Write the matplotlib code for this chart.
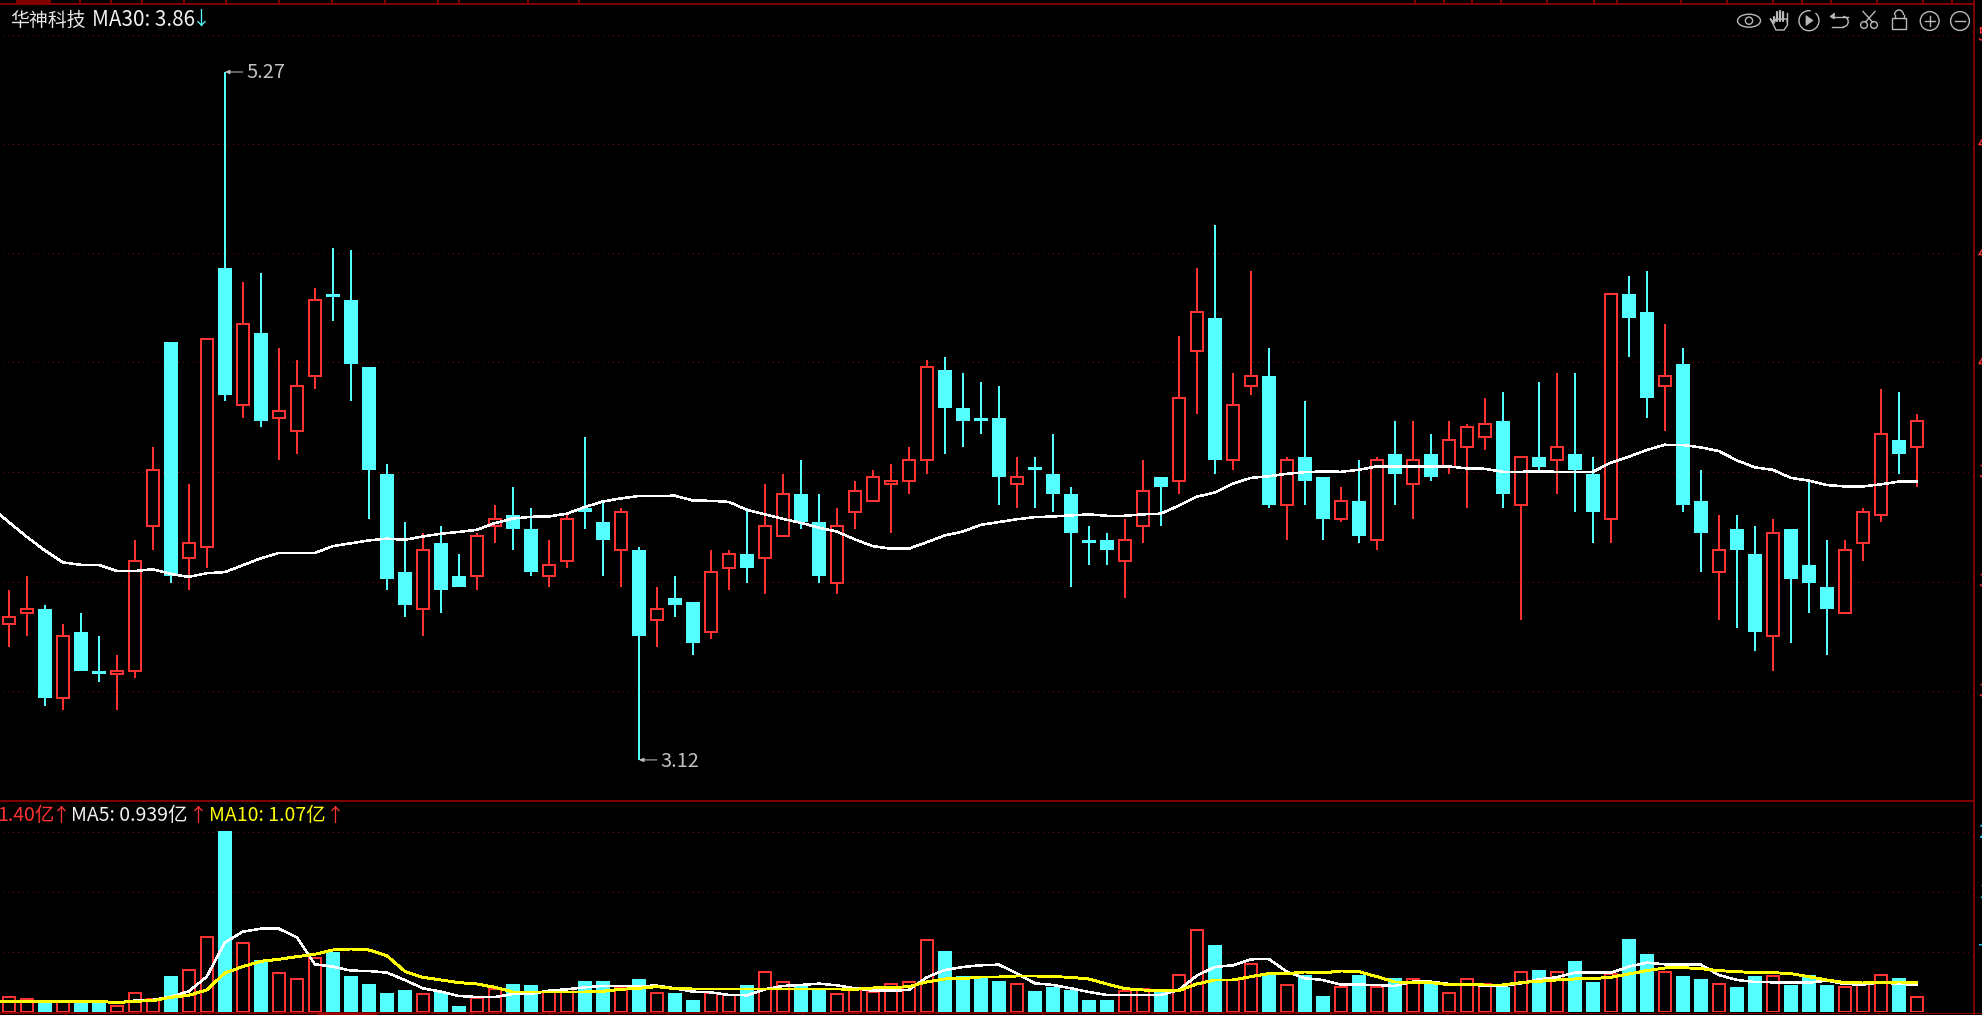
import numpy as np
import matplotlib
matplotlib.use("Agg")
import matplotlib.pyplot as plt
from matplotlib.patches import Circle, Rectangle, Ellipse, Polygon, Arc

plt.rcParams['font.family'] = ['Noto Sans CJK SC', 'DejaVu Sans']
plt.rcParams['lines.scale_dashes'] = False

# ---------- data ----------
opens = [3.46,3.49,3.50,3.27,3.44,3.34,3.33,3.34,3.73,4.29,3.64,3.67,4.54,4.09,4.32,4.05,4.01,4.18,4.45,4.43,
         4.21,3.88,3.60,3.50,3.68,3.59,3.59,3.73,3.76,3.72,3.59,3.63,3.78,3.74,3.66,3.66,3.47,3.53,3.52,3.44,
         3.61,3.65,3.64,3.70,3.82,3.74,3.57,3.77,3.80,3.85,3.86,3.92,4.20,4.08,4.05,4.05,3.85,3.90,3.88,3.82,
         3.69,3.69,3.63,3.73,3.87,3.86,4.26,4.37,3.92,4.15,4.18,3.79,3.93,3.87,3.75,3.80,3.69,3.94,3.85,3.94,
         3.90,3.96,3.99,4.04,3.79,3.93,3.92,3.94,3.88,3.75,4.45,4.39,4.15,4.22,3.80,3.60,3.72,3.65,3.43,3.72,
         3.62,3.56,3.49,3.68,3.76,3.98,3.96]
highs = [3.55,3.59,3.51,3.46,3.49,3.43,3.38,3.69,3.96,4.29,3.85,4.30,5.27,4.49,4.52,4.27,4.23,4.47,4.61,4.60,
         4.21,3.91,3.74,3.71,3.73,3.65,3.71,3.79,3.84,3.78,3.69,3.76,3.99,3.80,3.78,3.67,3.56,3.59,3.52,3.66,
         3.66,3.78,3.85,3.88,3.92,3.82,3.78,3.86,3.89,3.91,3.96,4.23,4.24,4.19,4.16,4.15,3.93,3.93,4.00,3.84,
         3.73,3.71,3.75,3.92,3.87,4.31,4.54,4.69,4.19,4.53,4.27,3.93,4.10,3.87,3.84,3.92,3.93,4.04,4.04,4.00,
         4.04,4.03,4.11,4.13,3.93,4.16,4.19,4.19,3.93,4.45,4.51,4.53,4.35,4.27,3.89,3.76,3.76,3.73,3.75,3.72,
         3.86,3.69,3.69,3.78,4.14,4.13,4.06]
lows = [3.40,3.43,3.25,3.24,3.34,3.31,3.24,3.32,3.66,3.57,3.55,3.61,4.10,4.05,4.02,3.92,3.94,4.14,4.36,4.10,
        3.75,3.55,3.48,3.43,3.49,3.56,3.55,3.68,3.66,3.59,3.56,3.61,3.72,3.59,3.56,3.12,3.40,3.48,3.38,3.42,
        3.55,3.57,3.54,3.70,3.72,3.57,3.54,3.72,3.80,3.71,3.82,3.88,3.94,3.96,4.00,3.79,3.78,3.78,3.77,3.56,
        3.62,3.62,3.53,3.68,3.73,3.82,4.06,3.88,3.89,4.12,3.78,3.69,3.79,3.69,3.74,3.68,3.66,3.79,3.75,3.86,
        3.88,3.78,3.95,3.78,3.47,3.89,3.82,3.77,3.68,3.68,4.24,4.05,4.01,3.77,3.60,3.47,3.45,3.39,3.34,3.41,
        3.49,3.38,3.49,3.63,3.74,3.88,3.84]
closes = [3.48,3.50,3.27,3.43,3.34,3.33,3.34,3.63,3.89,3.59,3.68,4.30,4.12,4.35,4.04,4.07,4.15,4.43,4.44,4.22,
          3.89,3.58,3.51,3.66,3.55,3.56,3.70,3.75,3.72,3.60,3.62,3.75,3.77,3.69,3.77,3.43,3.50,3.51,3.41,3.60,
          3.65,3.61,3.73,3.82,3.74,3.59,3.73,3.83,3.87,3.86,3.92,4.21,4.08,4.04,4.04,3.87,3.87,3.89,3.82,3.71,
          3.68,3.66,3.69,3.83,3.84,4.11,4.39,3.92,4.09,4.18,3.79,3.92,3.86,3.75,3.80,3.70,3.92,3.88,3.92,3.87,
          3.98,4.02,4.03,3.82,3.93,3.90,3.96,3.89,3.77,4.45,4.37,4.11,4.18,3.79,3.71,3.66,3.66,3.44,3.71,3.58,
          3.57,3.50,3.66,3.77,4.00,3.94,4.04]

# moving average readings; the first value sits one session before the first candle
ma30 = [3.783,3.740,3.698,3.660,3.627,3.620,3.620,3.603,3.603,3.608,3.595,3.587,3.597,3.600,3.619,3.638,3.653,3.653,3.653,3.672,
        3.680,3.688,3.693,3.690,3.699,3.707,3.712,3.718,3.737,3.750,3.755,3.756,3.764,3.783,3.799,3.808,3.815,3.815,3.816,3.802,
        3.801,3.798,3.775,3.762,3.749,3.738,3.724,3.713,3.691,3.672,3.665,3.665,3.683,3.702,3.713,3.732,3.740,3.748,3.754,3.756,
        3.759,3.762,3.758,3.758,3.762,3.764,3.787,3.813,3.825,3.851,3.868,3.873,3.880,3.885,3.887,3.886,3.892,3.902,3.902,3.902,
        3.902,3.902,3.896,3.895,3.886,3.886,3.887,3.886,3.886,3.886,3.913,3.931,3.951,3.967,3.966,3.959,3.948,3.920,3.899,3.892,
        3.868,3.860,3.847,3.843,3.843,3.849,3.857,3.858]

volumes = [.18,.156,.132,.132,.132,.148,.08,.228,.156,.436,.504,.90,2.176,.828,.628,.468,.396,.648,.724,.436,
           .34,.232,.268,.216,.244,.076,.168,.28,.34,.328,.244,.28,.376,.376,.30,.40,.228,.232,.148,.228,
           .208,.328,.48,.368,.34,.28,.216,.28,.244,.336,.368,.864,.736,.436,.436,.376,.336,.256,.304,.268,
           .148,.148,.252,.28,.244,.444,.984,.808,.388,.576,.448,.324,.448,.196,.30,.448,.30,.412,.396,.364,
           .228,.396,.34,.308,.48,.508,.48,.616,.364,.46,.88,.70,.48,.436,.40,.336,.304,.436,.432,.328,
           .448,.328,.30,.34,.444,.412,.18]

vol_ma5 = [.132,.132,.132,.132,.132,.132,.132,.116,.14,.148,.188,.252,.428,.836,.968,1.004,1.004,.90,.576,.548,
           .50,.496,.476,.388,.288,.248,.196,.184,.184,.22,.22,.26,.276,.30,.316,.316,.316,.32,.288,.248,
           .24,.208,.204,.276,.316,.328,.344,.324,.288,.26,.26,.268,.42,.508,.544,.564,.572,.468,.348,.328,
           .288,.244,.208,.208,.208,.208,.268,.44,.544,.564,.636,.64,.488,.408,.388,.332,.332,.328,.316,.368,
           .368,.34,.34,.316,.316,.348,.396,.42,.476,.476,.476,.548,.596,.576,.572,.572,.448,.388,.364,.36,
           .356,.356,.38,.34,.332,.36,.34,.332]

vol_ma10 = [.132,.132,.132,.128,.128,.128,.132,.116,.132,.14,.18,.204,.268,.472,.548,.612,.636,.668,.696,.748,
            .76,.748,.68,.492,.42,.388,.356,.34,.30,.244,.244,.244,.244,.244,.252,.276,.288,.308,.284,.28,
            .28,.28,.28,.28,.28,.28,.28,.28,.276,.292,.296,.308,.364,.40,.404,.424,.424,.436,.436,.428,
            .42,.40,.34,.284,.268,.256,.26,.34,.388,.388,.428,.464,.464,.484,.472,.496,.488,.428,.364,.36,
            .356,.332,.332,.328,.328,.356,.372,.388,.40,.404,.42,.46,.50,.532,.536,.524,.50,.488,.476,.476,
            .464,.428,.388,.356,.352,.356,.364,.356]

price_ticks = [5.42, 4.99, 4.59, 4.224, 3.885, 3.574, 3.288]
price_tick_labels = ['5.42', '4.99', '4.59', '4.22', '3.89', '3.57', '3.29']
vol_ticks = [0.72, 1.44, 2.16]
vol_tick_labels = ['7200万', '1.44亿', '2.16亿']

top_ticks_px = [17,50,80,111,142,184,226,279,332,385,438,459,528,579,1415,1444,1472,1501,1547,1594,
                1617,1681,1727,1773,1802,1831,1877,1923,1952]
bottom_ticks_px = [66,201,472,550,609,668,803,920,1043,1196,1331,1448]

# ---------- style ----------
W, H = 1982, 1015
PX = 0.72
RED = '#ff3232'
TEAL = '#54ffff'
FRAME = '#800000'
GRID = '#7a0000'
DOTS = (0, (1 * PX, 4.4 * PX))
BG = '#000000'

fig = plt.figure(figsize=(W / 100, H / 100), dpi=100, facecolor=BG)

def panel(top, bottom, right=1974):
    ax = fig.add_axes([0, 1 - bottom / H, right / W, (bottom - top) / H], facecolor=BG)
    for s in ax.spines.values():
        s.set_visible(False)
    ax.set_xticks([])
    ax.set_xlim(-8.8 / 18, (1974 - 8.8) / 18)
    return ax

x = np.arange(len(closes))
xm = np.arange(-1, len(closes))
is_up = np.array(closes) >= np.array(opens)
tops = np.maximum(opens, closes)
bots = np.minimum(opens, closes)

# ---------- price panel ----------
ax = panel(4, 800.7)
K = 0.000762
ax.set_yscale('log')
ax.set_ylim(5.27 * np.exp(K * (72 - 800.7)), 5.27 * np.exp(K * (72 - 4)))
ax.minorticks_off()
ax.set_yticks(price_ticks)
ax.set_yticklabels([])
ax.tick_params(length=0)
for t in price_ticks:
    ax.plot([-0.32, 109.0], [t, t], color=GRID, lw=1 * PX, ls=DOTS, zorder=1, antialiased=False)

wick_colors = [RED if u else TEAL for u in is_up]
ax.vlines(x, lows, highs, colors=wick_colors, lw=2 * PX, zorder=2, antialiased=False)
ax.bar(x[~is_up], (tops - bots)[~is_up], bottom=bots[~is_up], width=14 / 18,
       color=TEAL, lw=0, zorder=3, antialiased=False)
ax.bar(x[is_up], (tops - bots)[is_up], bottom=bots[is_up], width=12.4 / 18,
       facecolor=BG, edgecolor=RED, lw=2 * PX, zorder=3, antialiased=False)
ax.plot(xm, ma30, color='white', lw=1.5 * PX, zorder=4, antialiased=False)

hi_i, lo_i = int(np.argmax(highs)), int(np.argmin(lows))
for i_val, yv, dy in ((hi_i, highs[hi_i], 0), (lo_i, lows[lo_i], -2 * PX)):
    ax.annotate('', xy=(i_val, yv), xytext=(18 * PX, 0), textcoords='offset points',
                arrowprops=dict(arrowstyle='-|>,head_width=0.12,head_length=0.28', color='#c0c0c0', lw=1 * PX,
                                shrinkA=0, shrinkB=0), zorder=5)
    ax.annotate(f'{yv:.2f}', xy=(i_val, yv), xytext=(22 * PX, dy), textcoords='offset points',
                color='#c0c0c0', fontsize=14.4, va='center', ha='left', zorder=5)

# ---------- volume panel ----------
vx = panel(801, 1012.3)
vx.set_ylim(0, 211.3 * 3 * 0.004)
vx.set_yticks(vol_ticks)
vx.set_yticklabels([])
vx.tick_params(length=0)
for t in vol_ticks:
    vx.plot([-0.32, 109.0], [t, t], color=GRID, lw=1 * PX, ls=DOTS, zorder=1, antialiased=False)
vol = np.array(volumes)
vx.bar(x[~is_up], vol[~is_up], width=14 / 18, color=TEAL, lw=0, zorder=2, antialiased=False)
vx.bar(x[is_up], vol[is_up], width=12.4 / 18, facecolor=BG, edgecolor=RED, lw=2 * PX, zorder=2, antialiased=False)
vx.plot(xm, vol_ma5, color='white', lw=1.5 * PX, zorder=3, antialiased=False)
vx.plot(xm, vol_ma10, color='#ffff00', lw=1.9 * PX, zorder=4, antialiased=False)

# ---------- overlay: frame, captions, axis labels, toolbar (pixel coordinates) ----------
ov = fig.add_axes([0, 0, 1, 1], facecolor='none')
ov.set_xlim(0, W)
ov.set_ylim(H, 0)
ov.axis('off')

ov.plot([0, 1974], [4.3, 4.3], color=FRAME, lw=2 * PX, solid_capstyle='butt', antialiased=False)
ov.plot([17, 50], [2, 2], color=FRAME, lw=5 * PX, solid_capstyle='butt', antialiased=False)
ov.vlines(top_ticks_px, 0, 4, color=FRAME, lw=1.5 * PX, antialiased=False)
ov.plot([0, 1974], [801, 801], color=FRAME, lw=2 * PX, solid_capstyle='butt', antialiased=False)
ov.plot([1974, 1974], [0, 1015], color=FRAME, lw=2 * PX, solid_capstyle='butt', antialiased=False)
ov.plot([0, 1569], [1013.3, 1013.3], color=FRAME, lw=2 * PX, solid_capstyle='butt', antialiased=False)
ov.plot([1569, 1982], [1013, 1013], color=FRAME, lw=1 * PX, solid_capstyle='butt', antialiased=False)
ov.plot([317, 376], [1013.5, 1013.5], color='#a00000', lw=3 * PX, solid_capstyle='butt', antialiased=False)
ov.vlines(bottom_ticks_px, 1013, 1015, color=FRAME, lw=1.5 * PX, antialiased=False)

for t, lab in zip(price_ticks, price_tick_labels):
    yp = 72 + np.log(5.27 / t) / K
    ov.text(1978, yp, lab, color=RED, fontsize=14, va='center', ha='left', clip_on=False)
for t, lab in zip(vol_ticks, vol_tick_labels):
    yp = 1012.3 - t / 0.004 / 3
    ov.text(1978, yp, lab, color='#1fc4f4', fontsize=14, va='center', ha='left', clip_on=False)

CAP = 13.6
LEG = 14.0
ov.text(10, 20, '华神科技', color='#e6e6e6', fontsize=CAP, va='center', ha='left')
ov.text(92.5, 20, 'MA30: 3.86', color='#f0f0f0', fontsize=14.9, va='center', ha='left')
ov.text(192, 20, '↓', color=TEAL, fontsize=CAP, va='center', ha='left')

ov.text(-3, 815.5, '1.40亿', color=RED, fontsize=LEG, va='center', ha='left')
ov.text(52, 815.5, '↑', color=RED, fontsize=CAP, va='center', ha='left')
ov.text(71, 815.5, 'MA5: 0.939亿', color='#f0f0f0', fontsize=LEG, va='center', ha='left')
ov.text(189, 815.5, '↑', color=RED, fontsize=CAP, va='center', ha='left')
ov.text(209, 815.5, 'MA10: 1.07亿', color='#ffff00', fontsize=LEG, va='center', ha='left')
ov.text(326, 815.5, '↑', color=RED, fontsize=CAP, va='center', ha='left')

IC = '#b8b8b8'
LW = 1.4 * PX
kw = dict(fill=False, edgecolor=IC, lw=LW)
# eye
ov.add_patch(Ellipse((1749, 20.7), 23, 13, **kw))
ov.add_patch(Circle((1749, 20.7), 3.6, **kw))
# hand
for fx, ytop in ((1773.5, 17), (1776.5, 11.5), (1779.5, 10.5), (1782.5, 12)):
    ov.plot([fx, fx], [ytop, 21], color=IC, lw=2.2 * PX, solid_capstyle='round')
ov.plot([1770.5, 1774, 1776, 1783, 1787, 1787.5, 1784, 1776, 1770.5],
        [19, 23, 19, 19, 19, 25, 30, 30, 19], color=IC, lw=LW)
ov.plot([1787, 1787], [13, 22], color=IC, lw=LW)
# play
ov.add_patch(Arc((1809, 20.7), 20, 20, theta1=-50, theta2=280, edgecolor=IC, lw=LW))
ov.add_patch(Polygon([[1806, 15.5], [1806, 25.5], [1813, 20.5]], closed=True, facecolor=IC, edgecolor=IC, lw=0.5))
# back
ov.plot([1832, 1843, 1848], [16.5, 16.5, 16.5], color=IC, lw=LW)
ov.add_patch(Arc((1843, 21.7), 10.4, 10.4, theta1=-90, theta2=90, edgecolor=IC, lw=LW))
ov.plot([1843, 1832], [27, 27], color=IC, lw=LW)
ov.add_patch(Polygon([[1830, 16.5], [1834.5, 13], [1834.5, 19]], closed=True, facecolor=IC, edgecolor=IC, lw=0.5))
# scissors
ov.add_patch(Circle((1864, 25), 3.4, **kw))
ov.add_patch(Circle((1874, 25), 3.4, **kw))
ov.plot([1865.5, 1875], [22, 11.5], color=IC, lw=LW)
ov.plot([1872.5, 1863], [22, 11.5], color=IC, lw=LW)
# lock
ov.add_patch(Rectangle((1892, 18), 14, 10.5, **kw))
ov.add_patch(Arc((1899, 15), 9, 10, theta1=180, theta2=360, edgecolor=IC, lw=LW))
ov.plot([1894.5, 1894.5], [15, 18], color=IC, lw=LW)
ov.plot([1903.5, 1903.5], [15, 18], color=IC, lw=LW)
# plus / minus
ov.add_patch(Circle((1929.7, 21), 9.4, **kw))
ov.plot([1924.5, 1935], [21, 21], color=IC, lw=LW)
ov.plot([1929.7, 1929.7], [16, 26], color=IC, lw=LW)
ov.add_patch(Circle((1960, 21), 9.4, **kw))
ov.plot([1955, 1965], [21, 21], color=IC, lw=LW)

fig.savefig('out.png', dpi=100, facecolor=BG)
